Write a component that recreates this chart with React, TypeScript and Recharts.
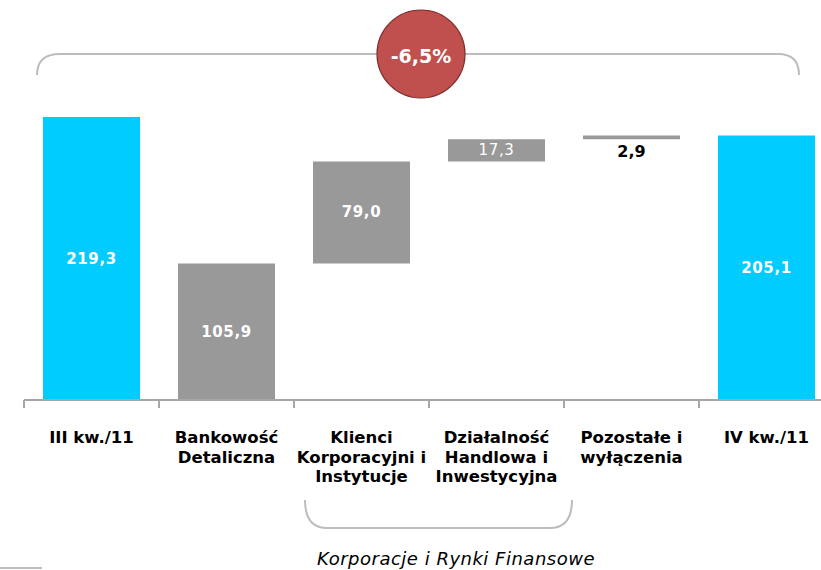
import React from "react";
import { BarChart, Bar, XAxis, YAxis, Cell, LabelList } from "recharts";

// waterfall: start, contributions, end
const categories = [
  ["III kw./11"],
  ["Bankowość", "Detaliczna"],
  ["Klienci", "Korporacyjni i", "Instytucje"],
  ["Działalność", "Handlowa i", "Inwestycyjna"],
  ["Pozostałe i", "wyłączenia"],
  ["IV kw./11"],
];
const values = [219.3, 105.9, 79.0, 17.3, 2.9, 205.1];
const isTotal = [true, false, false, false, false, true];
const groupLabel = "Korporacje i Rynki Finansowe";

const CYAN = "#00CCFF";
const GRAY = "#999999";
const AXIS = "#a6a6a6";
const BRACKET = "#bdbdbd";
const FONT = "'DejaVu Sans', Verdana, sans-serif";

const CHART_W = 834;
const CHART_H = 570;
const LEFT = 24;
const BAND = (CHART_W - LEFT) / categories.length;

// segments stack up from zero towards the closing total
let running = 0;
const data = values.map((v, i) => {
  const base = isTotal[i] ? 0 : running;
  if (!isTotal[i]) running += v;
  return { name: categories[i].join(" "), lines: categories[i], base, value: v };
});

const change = ((values[values.length - 1] - values[0]) / values[0]) * 100;
const fmt = (v: number) => v.toFixed(1).replace(".", ",");

const CategoryTick = (props: any) => {
  const { x, y, index } = props;
  const lines = data[index]?.lines ?? [];
  const tx = x - BAND / 2;
  return (
    <g>
      <line x1={tx} y1={y} x2={tx} y2={y + 8} stroke={AXIS} strokeWidth={2} />
      <text
        x={x}
        y={y + 43}
        textAnchor="middle"
        fill="#000"
        fontFamily={FONT}
        fontWeight="bold"
        fontSize={16.5}
      >
        {lines.map((l: string, i: number) => (
          <tspan key={i} x={x} dy={i === 0 ? 0 : 19.5}>
            {l}
          </tspan>
        ))}
      </text>
    </g>
  );
};

const ValueLabel = (props: any) => {
  const { x, y, width, height, value, index } = props;
  const cx = x + width / 2;
  if (index === 4) {
    return (
      <text
        x={cx}
        y={y + height + 18}
        textAnchor="middle"
        fill="#000"
        fontFamily={FONT}
        fontWeight="bold"
        fontSize={16}
      >
        {fmt(value)}
      </text>
    );
  }
  return (
    <text
      x={cx}
      y={y + height / 2}
      dominantBaseline="central"
      textAnchor="middle"
      fill="#fff"
      fontFamily={FONT}
      fontWeight={index === 3 ? "normal" : "bold"}
      fontSize={15}
      letterSpacing={0.6}
    >
      {fmt(value)}
    </text>
  );
};

export default function App() {
  return (
    <div
      style={{
        position: "absolute",
        left: 0,
        top: 0,
        width: 821,
        height: 570,
        overflow: "hidden",
        background: "#fff",
      }}
    >
      <BarChart
        width={CHART_W}
        height={CHART_H}
        data={data}
        margin={{ top: 13, right: 0, bottom: 0, left: LEFT }}
        barSize={97}
      >
        <YAxis hide domain={[0, 300]} allowDataOverflow />
        <XAxis
          dataKey="name"
          height={170}
          axisLine={{ stroke: AXIS, strokeWidth: 2 }}
          tickLine={false}
          tickSize={0}
          tickMargin={0}
          interval={0}
          tick={<CategoryTick />}
        />
        <Bar dataKey="base" stackId="w" fill="transparent" isAnimationActive={false} />
        <Bar dataKey="value" stackId="w" isAnimationActive={false}>
          {data.map((d, i) => (
            <Cell key={i} fill={isTotal[i] ? CYAN : GRAY} />
          ))}
          <LabelList dataKey="value" content={<ValueLabel />} />
        </Bar>
      </BarChart>
      <svg
        width={821}
        height={570}
        style={{ position: "absolute", left: 0, top: 0, pointerEvents: "none" }}
      >
        <path
          d="M37 75 Q37 54 60 54 L778 54 Q799 54 799 75"
          fill="none"
          stroke={BRACKET}
          strokeWidth={2}
        />
        <circle cx={421} cy={54} r={44} fill="#C0504D" stroke="#7f2f2d" strokeWidth={1.2} />
        <text
          x={421}
          y={56}
          textAnchor="middle"
          dominantBaseline="central"
          fill="#fff"
          fontFamily={FONT}
          fontWeight="bold"
          fontSize={19}
        >
          {(change >= 0 ? "+" : "") + fmt(change) + "%"}
        </text>
        <path
          d="M305 500 Q305 528 327 528 L550 528 Q572 528 572 500"
          fill="none"
          stroke={BRACKET}
          strokeWidth={2}
        />
        <text
          x={456}
          y={565}
          textAnchor="middle"
          fill="#000"
          fontFamily={FONT}
          fontStyle="italic"
          fontSize={18}
          letterSpacing={0.5}
        >
          {groupLabel}
        </text>
        <line x1={0} y1={568} x2={42} y2={568} stroke={BRACKET} strokeWidth={2} />
      </svg>
    </div>
  );
}
